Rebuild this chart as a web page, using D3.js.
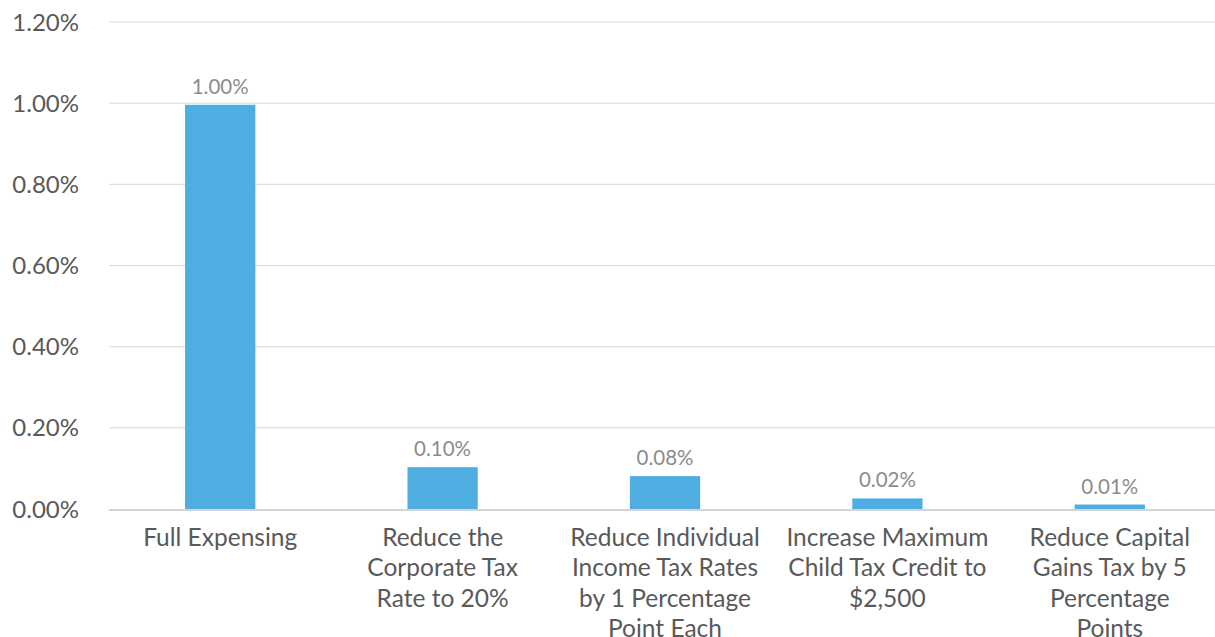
<!DOCTYPE html>
<meta charset="utf-8">
<html>
  <head>
    <script src="https://d3js.org/d3.v7.min.js"></script>
    <style>
      body { margin: 0; background: #fff; }
      text { font-family: Lato, "Open Sans", sans-serif; }
    </style>
  </head>
  <body>
    <div id="chart"></div>

    <script type="text/javascript">
      var categories = [
            ["Full Expensing"],
            ["Reduce the", "Corporate Tax", "Rate to 20%"],
            ["Reduce Individual", "Income Tax Rates", "by 1 Percentage", "Point Each"],
            ["Increase Maximum", "Child Tax Credit to", "$2,500"],
            ["Reduce Capital", "Gains Tax by 5", "Percentage", "Points"]
          ],
          values = [0.996, 0.103, 0.081, 0.026, 0.011],
          valueLabels = ["1.00%", "0.10%", "0.08%", "0.02%", "0.01%"],
          yTicks = [0, 0.2, 0.4, 0.6, 0.8, 1.0, 1.2];

      var W = 1215, H = 637,
          margin = { top: 22, left: 109 },
          width = 1112,
          height = 487;

      var svg = d3.select("#chart").append("svg")
          .attr("width", W)
          .attr("height", H)
          .append("g")
          .attr("transform", "translate(" + margin.left + "," + margin.top + ")");

      var x = d3.scaleBand()
          .domain(d3.range(categories.length))
          .range([0, width])
          .paddingInner(0.684)
          .paddingOuter(0.342);

      var y = d3.scaleLinear().domain([0, 1.2]).range([height, 0]);

      // gridlines
      svg.selectAll(".grid")
          .data(yTicks.slice(1))
          .enter().append("line")
          .attr("x1", 0).attr("x2", width)
          .attr("y1", function(d){ return y(d); })
          .attr("y2", function(d){ return y(d); })
          .style("stroke", "#d9d9d9")
          .style("stroke-width", "1px");

      // y tick labels
      svg.selectAll(".ytick")
          .data(yTicks)
          .enter().append("text")
          .attr("x", -30)
          .attr("y", function(d){ return y(d); })
          .attr("dy", "0.36em")
          .style("text-anchor", "end")
          .style("font-size", "24px")
          .style("fill", "#595959")
          .text(function(d){ return d.toFixed(2) + "%"; });

      // bars
      svg.selectAll(".bar")
          .data(values)
          .enter().append("rect")
          .attr("x", function(d, i){ return x(i); })
          .attr("width", x.bandwidth())
          .attr("y", function(d){ return y(d); })
          .attr("height", function(d){ return height - y(d); })
          .style("fill", "#4FAEE1");

      // baseline
      svg.append("line")
          .attr("x1", 0).attr("x2", width)
          .attr("y1", height + 1).attr("y2", height + 1)
          .style("stroke", "#d4d4d4")
          .style("stroke-width", "2px");

      // value labels
      svg.selectAll(".vlabel")
          .data(values)
          .enter().append("text")
          .attr("x", function(d, i){ return x(i) + x.bandwidth() / 2; })
          .attr("y", function(d){ return y(d) - 11; })
          .style("text-anchor", "middle")
          .style("font-size", "20.5px")
          .style("fill", "#8c8c8c")
          .text(function(d, i){ return valueLabels[i]; });

      // category labels
      var cat = svg.selectAll(".cat")
          .data(categories)
          .enter().append("text")
          .attr("transform", function(d, i){ return "translate(" + (x(i) + x.bandwidth() / 2) + "," + (height + 37) + ")"; })
          .style("text-anchor", "middle")
          .style("font-size", "24.5px")
          .style("fill", "#595959");

      cat.selectAll("tspan")
          .data(function(d){ return d; })
          .enter().append("tspan")
          .attr("x", 0)
          .attr("y", function(d, j){ return j * 30.3; })
          .text(function(d){ return d; });
    </script>
  </body>
</html>
